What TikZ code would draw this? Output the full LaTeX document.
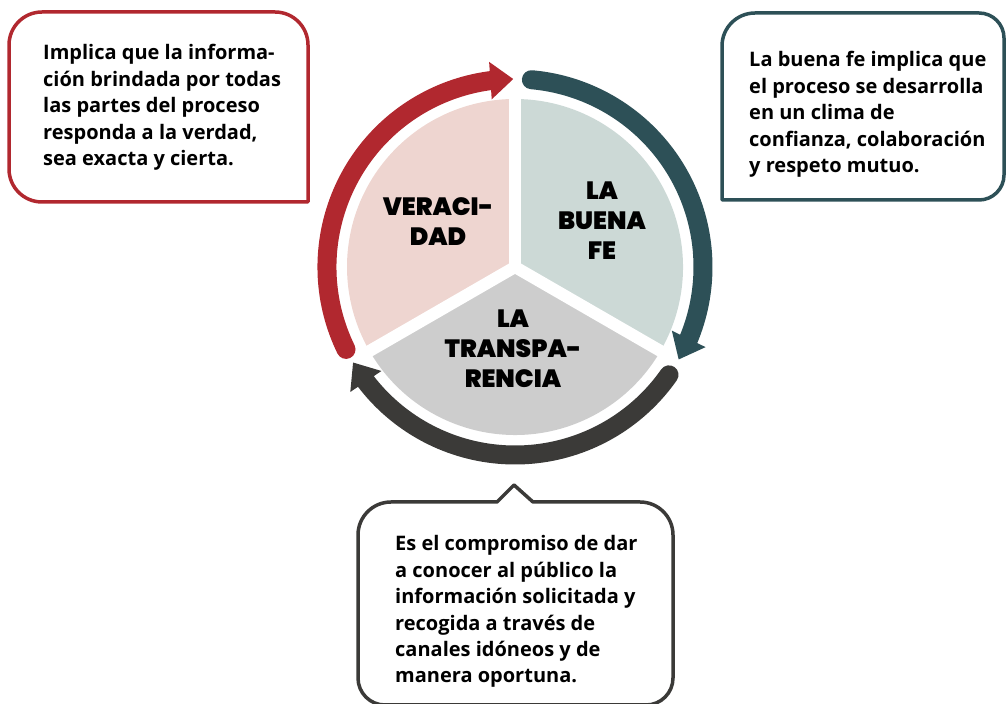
\documentclass[tikz,border=0pt]{standalone}
\usepackage{fontspec}
\setmainfont{Open Sans}
\newfontfamily\pieFont{Poppins Black}
\usepackage{tikz}
\usetikzlibrary{arrows.meta}
\usetikzlibrary{bending}
\usetikzlibrary{positioning}
\usepackage{xcolor}
\definecolor{verred}{RGB}{177,40,47}
\definecolor{feteal}{RGB}{45,80,87}
\definecolor{trdark}{RGB}{59,58,56}
\definecolor{verfill}{RGB}{238,213,208}
\definecolor{fefill}{RGB}{204,217,214}
\definecolor{trfill}{RGB}{205,205,205}

\begin{document}
\begin{tikzpicture}[x=1pt, y=1pt,
        cyclearc/.style={line width=19pt, line cap=round, -{Triangle[width=36pt,length=23pt]}},
        callout/.style={line width=3.5pt, line join=round},
        desc/.style={font=\bfseries\fontsize{20}{26.4}\selectfont, align=left, anchor=base west, inner sep=0pt},
        sector/.style={font=\pieFont\fontsize{25}{30}\selectfont, align=center, inner sep=0pt}]
            \useasboundingbox (0,0) rectangle (1007,704);
            \coordinate (c) at (515,437);

            \fill[verfill] (c) -- ++(90:168) arc[start angle=90, end angle=210, radius=168] -- cycle;
            \fill[fefill] (c) -- ++(-30:168) arc[start angle=-30, end angle=90, radius=168] -- cycle;
            \fill[trfill] (c) -- ++(210:168) arc[start angle=210, end angle=330, radius=168] -- cycle;
            \foreach \a in {90,210,330}
                \draw[white, line width=12pt] (c) -- ++(\a:172);

            \node[sector] (veracidad) at (438,482) {VERACI-\\DAD};
            \node[sector] (buenafe) at (602,483) {LA\\BUENA\\FE};
            \node[sector] (transparencia) at (513,355) {LA\\TRANSPA-\\RENCIA};

            \draw[cyclearc, verred] (c) ++(206:188) arc[start angle=206, end angle=90.5, radius=188];
            \draw[cyclearc, feteal] (c) ++(85:188) arc[start angle=85, end angle=-29.5, radius=188];
            \draw[cyclearc, trdark] (c) ++(-35:188) arc[start angle=-35, end angle=-149.5, radius=188];

            \draw[callout, verred] (9,659) -- (9,535) arc[start angle=180, end angle=270, radius=33]
                -- (308,502) -- (308,659) arc[start angle=0, end angle=90, radius=33]
                -- (42,692) arc[start angle=90, end angle=180, radius=33] -- cycle;
            \draw[callout, feteal] (722,504) -- (722,658) arc[start angle=180, end angle=90, radius=33]
                -- (979,691) arc[start angle=90, end angle=0, radius=25]
                -- (1004,529) arc[start angle=0, end angle=-90, radius=25] -- cycle;
            \draw[callout, trdark] (358,26) -- (358,169) arc[start angle=180, end angle=90, radius=33]
                -- (497,202) -- (514,219) -- (533,202)
                -- (640,202) arc[start angle=90, end angle=0, radius=33]
                -- (673,26) arc[start angle=0, end angle=-90, radius=27]
                -- (385,-1) arc[start angle=270, end angle=180, radius=27] -- cycle;

            \node[desc] (vertext) at (43,538.5) {Implica que la informa-\\ción brindada por todas\\las partes del proceso\\responda a la verdad,\\sea exacta y cierta.};
            \node[desc] (fetext) at (749,531.5) {La buena fe implica que\\el proceso se desarrolla\\en un clima de\\confianza, colaboración\\y respeto mutuo.};
            \node[desc] (trtext) at (395,21) {Es el compromiso de dar\\a conocer al público la\\información solicitada y\\recogida a través de\\canales idóneos y de\\manera oportuna.};
        \end{tikzpicture}
\end{document}
